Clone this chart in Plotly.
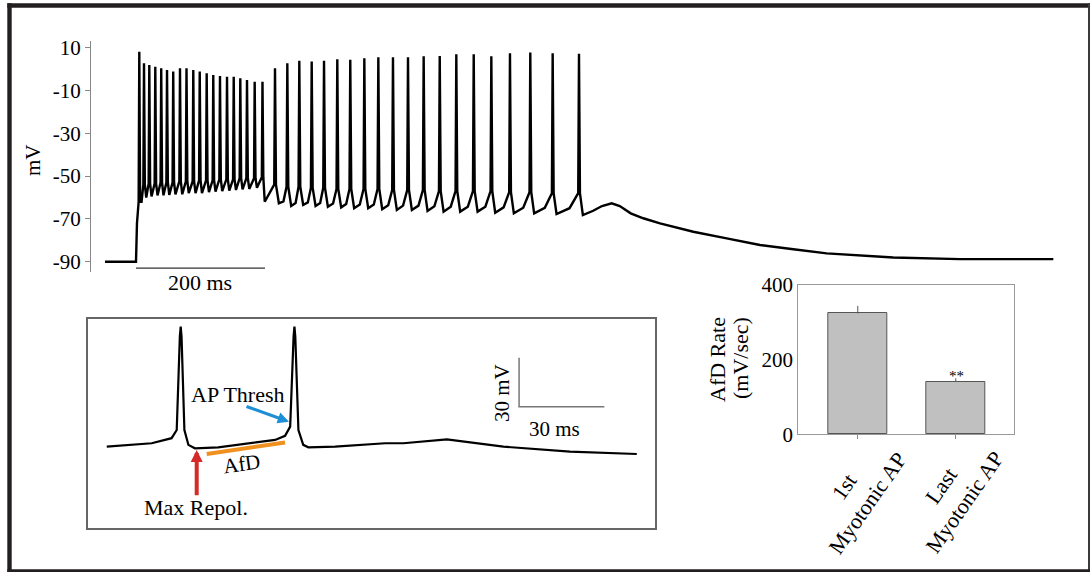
import plotly.graph_objects as go

W, H = 1090, 572
def fx(px):
    return px / W
def fy(py):
    return 1 - py / H

FONT = "Liberation Serif"

# ---------------- data: long recording (ms, mV) ----------------
onset_t = [-48, 0, 1.5, 4]
onset_v = [-90, -90, -72, -63]

g1_t = [5.1, 12.4, 20.6, 29.9, 39.1, 48.1, 57.7, 68.2, 78.3, 88.8,
        98.8, 109.6, 119.8, 130.2, 141.1, 151.5, 161.7, 172.1, 184.0, 196.1]
g1_peak = [8.1, 2.7, 1.9, 1.1, 0.4, -0.4, -1.2, 0.4, 0.4, -0.4,
           -1.2, -2.0, -2.8, -3.2, -3.6, -3.6, -4.3, -5.1, -5.9, -5.9]
g1_thresh = [-62, -54, -53.5, -53.5, -53, -53, -53, -52.5, -52.5, -52.5,
             -52, -52, -52, -51.5, -51.5, -51.5, -51, -51, -51, -50.5]
g1_trough = [-62, -60, -59.5, -59, -59, -58.8, -58.5, -58.5, -58, -58,
             -58, -57.5, -57.3, -57, -56.8, -56.5, -56.2, -56, -55.5, -62]

g2_t = [215.5, 234.6, 253.2, 272.4, 291.5, 312.1, 332.2, 354.0, 375.7, 398.4,
        421.7, 446.0, 470.9, 496.6, 523.6, 550.9, 579.8, 611.3, 646.0, 686.8]
g2_peak = [0.4, 2.7, 3.9, 3.5, 3.9, 4.6, 4.3, 5.0, 5.5, 5.5,
           5.5, 6.0, 6.1, 6.9, 6.9, 6.0, 7.4, 7.7, 7.4, 7.1]
g2_thresh = [-54, -55, -55, -55.5, -55.5, -56, -56, -56, -56, -56.5,
             -56.5, -56.5, -57, -57, -57, -57, -57.5, -57.5, -58, -58]
g2_trough = [-62.7, -64.0, -63.5, -64.0, -64.3, -64.6, -65.0, -65.0, -65.5, -65.8,
             -65.8, -66.3, -66.6, -66.6, -66.6, -67.1, -67.4, -67.4, -67.7, -68.2]
# slow ramp level midway through each inter-spike interval (last spike has none)
g2_mid = [-61.8, -62.6, -62.3, -62.6, -62.8, -63.0, -63.3, -63.3, -63.6, -63.8,
          -63.8, -64.1, -64.3, -64.3, -64.3, -64.6, -64.8, -64.8, -65.0]

tail_t = [708.8, 722.5, 737.5, 750.0, 767.0, 786.5, 812.4, 864.0, 915.8, 967.4,
          1019.1, 1070.9, 1174.1, 1277.5, 1422.2]
tail_v = [-66.2, -64.0, -62.7, -64.0, -67.4, -69.7, -72.1, -76.0, -79.1, -82.2,
          -84.2, -86.1, -88.0, -88.8, -88.8]

top_ticks = [10, -10, -30, -50, -70, -90]
top_tick_text = ["10", "-10", "-30", "-50", "-70", "-90"]
scalebar_ms = 200
scalebar_level = -93

# ---------------- data: inset (ms, mV) ----------------
inset_t = [6.6, 22.4, 29.4, 31.2, 32.3, 32.6, 32.9, 33.9, 35.3, 37.6, 45.8, 57.6, 65.8, 69.3,
           71.1, 72.3, 72.6, 72.9, 74.0, 75.7, 77.5, 86.9, 104.5, 110.9, 126.2, 146.1, 169.5, 193.0]
inset_v = [-65.5, -63.4, -60.3, -55.3, 2, 8, 2, -55.3, -64.4, -66.5, -65.9, -63.4, -61.4, -58.9,
           -53.2, 2, 8, 2, -55.3, -64.4, -65.9, -65.5, -63.4, -63.4, -61.0, -65.5, -68.5, -70.0]
afd_t = [41.75, 69.3]
afd_v = [-69.95, -63.0]
inset_bar_origin = (151.6, -41)
inset_bar_ms = 30
inset_bar_mv = 30

# ---------------- data: bar chart ----------------
categories = ["1st<br>Myotonic AP", "Last<br>Myotonic AP"]
afd_rate = [324, 141]
afd_err = [20, 9]
bar_ticks = [0, 200, 400]

# ---------------- build long trace ----------------
t = list(onset_t)
v = list(onset_v)
for ts, th, pk, tr in zip(g1_t, g1_thresh, g1_peak, g1_trough):
    t += [ts - 1.0, ts, ts + 1.3, ts + 3.5]
    v += [th, pk, th, tr]
for i, (ts, th, pk, tr) in enumerate(zip(g2_t, g2_thresh, g2_peak, g2_trough)):
    t += [ts - 1.2, ts, ts + 1.5, ts + 6.0]
    v += [th, pk, th, tr]
    if i < len(g2_mid):
        nxt = g2_t[i + 1]
        t.append(ts + 6.0 + 0.6 * (nxt - ts - 7.2))
        v.append(g2_mid[i])
t += tail_t
v += tail_v

fig = go.Figure()
fig.add_trace(go.Scatter(x=t, y=v, mode="lines", line=dict(color="black", width=2.4),
                         xaxis="x", yaxis="y", hoverinfo="skip", showlegend=False))
fig.add_trace(go.Scatter(x=[0, scalebar_ms], y=[scalebar_level, scalebar_level], mode="lines",
                         line=dict(color="#333", width=1.2), xaxis="x", yaxis="y",
                         hoverinfo="skip", showlegend=False))

# inset
fig.add_trace(go.Scatter(x=inset_t, y=inset_v, mode="lines", line=dict(color="black", width=2.2),
                         xaxis="x2", yaxis="y2", hoverinfo="skip", showlegend=False))
ox, oy = inset_bar_origin
fig.add_trace(go.Scatter(x=[ox, ox, ox + inset_bar_ms], y=[oy + inset_bar_mv, oy, oy], mode="lines",
                         line=dict(color="#777", width=1.5), xaxis="x2", yaxis="y2",
                         hoverinfo="skip", showlegend=False))
fig.add_trace(go.Scatter(x=afd_t, y=afd_v, mode="lines", line=dict(color="#f0901e", width=4),
                         xaxis="x2", yaxis="y2", hoverinfo="skip", showlegend=False))

# bars
fig.add_trace(go.Bar(x=[0, 1], y=afd_rate, width=0.6,
                     marker=dict(color="#c0c0c0", line=dict(color="#555", width=1)),
                     error_y=dict(type="data", symmetric=False, array=afd_err, arrayminus=[0, 0],
                                  color="#555", thickness=1, width=0),
                     xaxis="x3", yaxis="y3", hoverinfo="skip", showlegend=False))

# time scaling: 0.645 px per ms, t=0 at x=136 px
top_x0, top_x1 = 91, 1070
px_per_ms = 0.645
x_range = [(top_x0 - 136) / px_per_ms, (top_x1 - 136) / px_per_ms]

ann = []
def A(text, x, y, size=22, angle=0, **kw):
    d = dict(text=text, x=fx(x), y=fy(y), xref="paper", yref="paper", showarrow=False,
             font=dict(family=FONT, size=size, color="black"), textangle=angle,
             xanchor="center", yanchor="middle")
    d.update(kw)
    ann.append(d)

A("mV", 33, 160, size=21, angle=-90)
A("200 ms", 200, 282, size=22)
A("AP Thresh", 238, 394, size=22)
A("AfD", 241, 464, size=21, angle=-8)
A("Max Repol.", 196, 507, size=22)
A("30 mV", 502, 393, size=21, angle=-90)
A("30 ms", 555, 429, size=21)
A("AfD Rate", 717, 360, size=22, angle=-90)
A("(mV/sec)", 740, 358, size=22, angle=-90)
A("**", 956, 376, size=15)
A(categories[0], 856, 495, size=22, angle=-55)
A(categories[1], 953, 494, size=22, angle=-55)

# arrows
ann.append(dict(x=fx(289), y=fy(421.7), xref="paper", yref="paper", ax=-44, ay=-15.7,
                showarrow=True, arrowhead=2, arrowsize=0.75, arrowwidth=3, arrowcolor="#1e8fd6", text=""))
ann.append(dict(x=fx(196.7), y=fy(450), xref="paper", yref="paper", ax=0, ay=46.7,
                showarrow=True, arrowhead=2, arrowsize=0.6, arrowwidth=4, arrowcolor="#d42a2a", text=""))

shapes = []
def R(x0, y0, x1, y1, color):
    shapes.append(dict(type="rect", xref="paper", yref="paper", x0=fx(x0), x1=fx(x1),
                       y0=fy(y1), y1=fy(y0), fillcolor=color, line=dict(width=0)))
R(7.3, 3.3, 11.7, 572, "#231f20")
R(7.3, 3.3, 1090, 7.7, "#231f20")
R(1088, 3.3, 1090, 572, "#3a3a3a")
R(7.3, 569.3, 1090, 572, "#231f20")

axis_common = dict(showgrid=False, zeroline=False)
fig.update_layout(
    width=W, height=H, margin=dict(l=0, r=0, t=0, b=0, pad=0, autoexpand=False),
    showlegend=False,
    paper_bgcolor="white", plot_bgcolor="rgba(0,0,0,0)",
    xaxis=dict(domain=[fx(top_x0), fx(top_x1)], range=x_range, visible=False, anchor="y", **axis_common),
    yaxis=dict(domain=[fy(272), fy(41)], range=[-94.8, 13.1], tickvals=top_ticks, ticktext=top_tick_text,
               showline=True, linecolor="#888", linewidth=1, ticks="outside", ticklen=5,
               tickcolor="#888", tickfont=dict(family=FONT, size=21, color="black"),
               anchor="x", **axis_common),
    xaxis2=dict(domain=[fx(88), fx(655)], range=[0, 199.4], showline=True, mirror=True,
                linecolor="#666", linewidth=1.5, showticklabels=False, ticks="", anchor="y2", **axis_common),
    yaxis2=dict(domain=[fy(528.3), fy(319.3)], range=[-115.5, 12.5], showline=True, mirror=True,
                linecolor="#666", linewidth=1.5, showticklabels=False, ticks="", anchor="x2", **axis_common),
    xaxis3=dict(domain=[fx(798.3), fx(1014)], range=[-0.607, 1.594], tickvals=[0, 1], ticktext=["", ""],
                ticks="outside", ticklen=4, tickcolor="#888", showline=True, mirror=True,
                linecolor="#999", linewidth=1, anchor="y3", **axis_common),
    yaxis3=dict(domain=[fy(434.3), fy(285)], range=[0, 400], tickvals=bar_ticks, showline=True,
                mirror=True, linecolor="#999", linewidth=1, ticks="",
                tickfont=dict(family=FONT, size=21, color="black"), anchor="x3", **axis_common),
    annotations=ann, shapes=shapes, bargap=0,
)

post = "document.documentElement.style.margin='0';document.body.style.margin='0';"
fig.write_html("out.html", config={"displayModeBar": False}, post_script=post)
